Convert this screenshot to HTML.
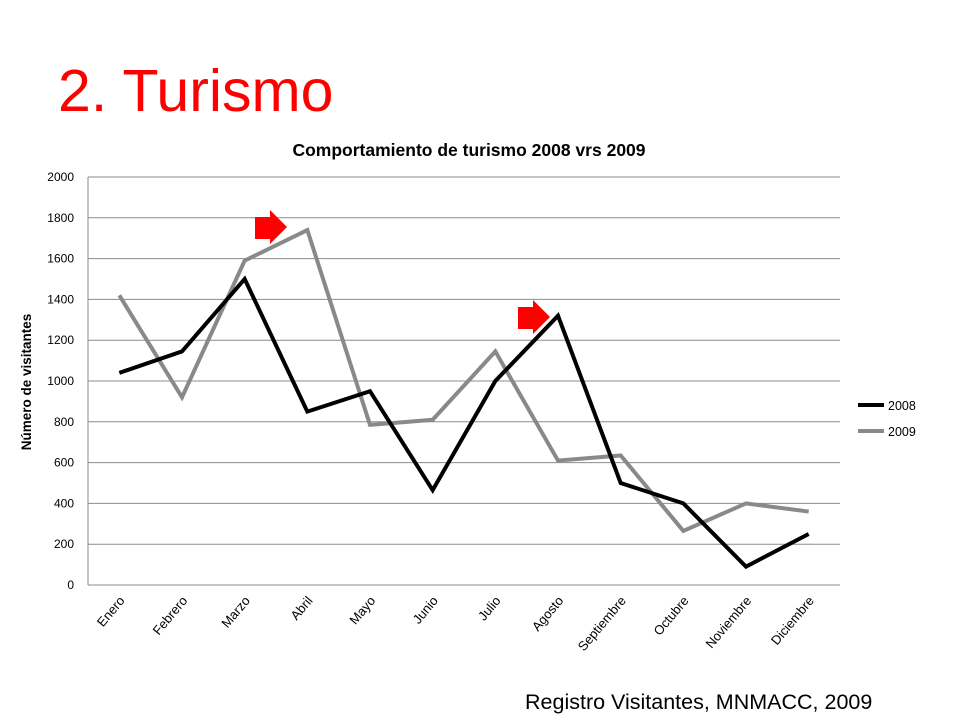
<!DOCTYPE html>
<html><head><meta charset="utf-8"><style>
body{margin:0;width:960px;height:720px;background:#fff;overflow:hidden;font-family:"Liberation Sans",sans-serif;}
svg text{font-family:"Liberation Sans",sans-serif;}
</style></head><body>
<svg id="c" width="960" height="720">
<text x="58" y="111" font-size="59" fill="#ff0000">2. Turismo</text>
<text x="469" y="156" font-size="17.5" font-weight="bold" text-anchor="middle">Comportamiento de turismo 2008 vrs 2009</text>
<text transform="translate(31,382) rotate(-90)" font-size="13.5" font-weight="bold" text-anchor="middle">Número de visitantes</text>
<text x="525" y="709" font-size="21.5">Registro Visitantes, MNMACC, 2009</text>
<g id="grid"></g><g id="series"></g>
<polygon points="255,217 270,217 270,210 287,227 270,244 270,239 255,239" fill="#ff0000"/>
<polygon points="518,307 533,307 533,300 550,317 533,334 533,329 518,329" fill="#ff0000"/>
<g>
<line x1="858" y1="405" x2="884" y2="405" stroke="#000" stroke-width="4"/>
<text x="888" y="410" font-size="12.5">2008</text>
<line x1="858" y1="431" x2="884" y2="431" stroke="#898989" stroke-width="4"/>
<text x="888" y="436" font-size="12.5">2009</text>
</g>
</svg>
<script>
const categories=["Enero","Febrero","Marzo","Abril","Mayo","Junio","Julio","Agosto","Septiembre","Octubre","Noviembre","Diciembre"];
const values2008=[1040,1145,1500,850,950,465,1000,1320,500,400,90,250];
const values2009=[1420,920,1590,1740,785,810,1145,610,635,265,400,360];
const yTicks=[0,200,400,600,800,1000,1200,1400,1600,1800,2000];
const NS="http://www.w3.org/2000/svg";
const L=88,R=840,T=177,B=585,yMax=2000;
const x=i=>L+(R-L)/categories.length*(i+0.5);
const y=v=>B-(B-T)*v/yMax;
function mk(tag,attrs,parent){const e=document.createElementNS(NS,tag);for(const k in attrs)e.setAttribute(k,attrs[k]);parent.appendChild(e);return e;}
const grid=document.getElementById('grid');
yTicks.forEach(t=>{
 const gl=mk('line',{x1:L,x2:R,y1:y(t),y2:y(t),stroke:'#8c8c8c','stroke-width':1},grid);
 
 
 const tl=mk('text',{x:L-14,y:y(t)+4,'font-size':12,'text-anchor':'end'},grid);
 tl.textContent=t;
 
 
});
const ax=mk('line',{x1:L,x2:L,y1:T,y2:B,stroke:'#888'},grid);


categories.forEach((c,i)=>{
 const t=mk('text',{transform:`translate(${x(i)+6},${B+16}) rotate(-50)`,'font-size':13,'text-anchor':'end'},grid);
 t.textContent=c;
 
 
});
const sg=document.getElementById('series');
[[values2009,'#898989','2009'],[values2008,'#000','2008']].forEach(([vals,col,name])=>{
 const p=mk('polyline',{points:vals.map((v,i)=>x(i)+','+y(v)).join(' '),fill:'none',stroke:col,'stroke-width':4,'stroke-linejoin':'miter'},sg);
 
 
});
</script>
</body></html>
